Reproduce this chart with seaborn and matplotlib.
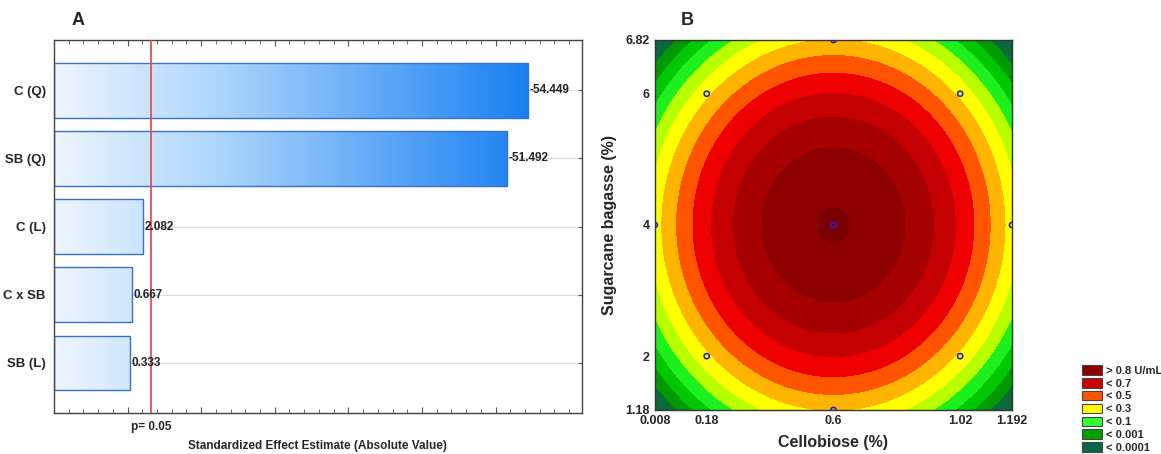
import matplotlib
matplotlib.use("Agg")
import matplotlib.pyplot as plt
from matplotlib.colors import LinearSegmentedColormap
from matplotlib.patches import Patch
from matplotlib.ticker import MultipleLocator
import numpy as np
import pandas as pd
import seaborn as sns

# panel A - pareto of standardized effects
terms = ["C (Q)", "SB (Q)", "C (L)", "C x SB", "SB (L)"]
effects = [-54.449, -51.492, 2.082, 0.667, 0.333]
p_crit = 3.18  # t value at p = 0.05

# panel B - fitted quadratic model in coded units (x1 = cellobiose, x2 = bagasse)
b0 = 0.805
b11 = -0.330
b22 = -0.303
cello_center, cello_step = 0.6, 0.42
sb_center, sb_step = 4.0, 2.0
cello_ticks = [0.008, 0.18, 0.6, 1.02, 1.192]
sb_ticks = [1.18, 2, 4, 6, 6.82]
design_cello = [0.18, 0.18, 1.02, 1.02, 0.008, 1.192, 0.6, 0.6, 0.6]
design_sb = [2, 6, 2, 6, 4, 4, 1.18, 6.82, 4]
levels = [-1.0, -0.3, -0.2, -0.1, 0.0, 0.1, 0.2, 0.3, 0.4, 0.5, 0.6, 0.7, 0.8, 1.0]
band_colors = ['#0b6a3a', '#009a00', '#00c800', '#1ef01e', '#b8ff00', '#ffff00',
               '#ffb400', '#ff5500', '#ee0000', '#c40000', '#a60000', '#8e0000', '#7a0000']
legend_labels = ["> 0.8 U/mL", "< 0.7", "< 0.5", "< 0.3", "< 0.1", "< 0.001", "< 0.0001"]
legend_colors = ['#8b0000', '#cc0000', '#ff5500', '#ffff00', '#33ff33', '#00a000', '#0a6648']

sns.set_style("white")
plt.rcParams['font.family'] = ['Liberation Sans', 'DejaVu Sans']
plt.rcParams['xtick.direction'] = 'in'
plt.rcParams['ytick.direction'] = 'in'

fig = plt.figure(figsize=(11.61, 4.54), dpi=100)
axA = fig.add_axes([0.0465, 0.090, 0.4545, 0.822])
axB = fig.add_axes([0.564, 0.097, 0.3077, 0.815])

# ---- panel A ----
df = pd.DataFrame({"term": terms, "effect": effects})
df["abs_effect"] = df["effect"].abs()
xmin, xmax = -10, 61.7
for y in range(len(terms)):
    axA.axhline(y, color='#d8d8d8', lw=0.8, zorder=0)
sns.barplot(data=df, x="abs_effect", y="term", orient="h", ax=axA, width=0.8,
            color='white', edgecolor='#3b6fcf', linewidth=1.0, zorder=2)
cmap = LinearSegmentedColormap.from_list(
    "bar", [(0, '#eef6fe'), (0.35, '#acd5fb'), (1, '#1a80f2')])
grad = np.linspace(0, 1, 256).reshape(1, -1)
gmax = df["abs_effect"].max()
for patch, val in zip(axA.patches, df["abs_effect"]):
    patch.set_x(xmin)
    patch.set_width(val - xmin)
    patch.set_facecolor('none')
    y0 = patch.get_y()
    h = patch.get_height()
    im = axA.imshow(grad, cmap=cmap, aspect='auto', extent=[xmin, gmax, y0 + h, y0],
                    zorder=1.5, interpolation='bilinear')
    im.set_clip_path(patch)
for i, (val, eff) in enumerate(zip(df["abs_effect"], df["effect"])):
    axA.text(val + 0.2, i, f"{eff:.3f}", va='center', ha='left', fontsize=8.5,
             fontweight='semibold', color='#222222', zorder=4)
axA.axvline(p_crit, color='#e05050', lw=1.3, zorder=3)
axA.set_xlim(xmin, xmax)
axA.set_ylim(len(terms) - 0.26, -0.74)
axA.set_xticks(np.arange(0, 60, 10))
axA.set_xticklabels([])
axA.xaxis.set_minor_locator(MultipleLocator(2))
axA.tick_params(axis='x', which='both', top=True, bottom=True, length=3, color='#555555')
axA.tick_params(axis='x', which='major', length=4)
axA.tick_params(axis='y', left=True, right=True, length=3, color='#555555', labelsize=9.5, pad=6)
for lab in axA.get_yticklabels():
    lab.set_fontweight('bold')
axA.text(p_crit, -0.022, "p= 0.05", transform=axA.get_xaxis_transform(),
         ha='center', va='top', fontsize=8.5, fontweight='bold')
axA.set_xlabel("Standardized Effect Estimate (Absolute Value)", fontsize=8.5,
               fontweight='bold', labelpad=16)
axA.set_ylabel("")
for s in axA.spines.values():
    s.set_color('#444444')
    s.set_linewidth(1.0)
axA.text(0.045, 1.03, "A", transform=axA.transAxes, fontsize=13, fontweight='bold',
         ha='center', va='bottom')

# ---- panel B ----
cello = np.linspace(cello_ticks[0], cello_ticks[-1], 400)
sb = np.linspace(sb_ticks[0], sb_ticks[-1], 400)
CC, SS = np.meshgrid(cello, sb)
x1 = (CC - cello_center) / cello_step
x2 = (SS - sb_center) / sb_step
Z = b0 + b11 * x1 ** 2 + b22 * x2 ** 2
axB.contourf(CC, SS, Z, levels=levels, colors=band_colors)
sns.scatterplot(x=design_cello, y=design_sb, ax=axB, marker='o', s=14,
                facecolor='none', edgecolor='#2323c8', linewidth=1.2, zorder=5)
axB.set_xlim(cello_ticks[0], cello_ticks[-1])
axB.set_ylim(sb_ticks[0], sb_ticks[-1])
axB.set_xticks(cello_ticks)
axB.set_xticklabels([str(t) for t in cello_ticks])
axB.set_yticks(sb_ticks)
axB.set_yticklabels([str(t) for t in sb_ticks])
axB.xaxis.set_minor_locator(MultipleLocator(0.15))
axB.yaxis.set_minor_locator(MultipleLocator(0.4))
axB.tick_params(axis='both', which='both', top=True, right=True, length=3,
                color='#333333', labelsize=9)
for lab in axB.get_xticklabels() + axB.get_yticklabels():
    lab.set_fontweight('bold')
axB.set_xlabel("Cellobiose (%)", fontsize=11.5, fontweight='bold', labelpad=6)
axB.set_ylabel("Sugarcane bagasse (%)", fontsize=11.5, fontweight='bold', labelpad=6)
for s in axB.spines.values():
    s.set_color('#333333')
    s.set_linewidth(1.0)
axB.text(0.092, 1.03, "B", transform=axB.transAxes, fontsize=13, fontweight='bold',
         ha='center', va='bottom')

handles = [Patch(facecolor=c, edgecolor='#444444', linewidth=0.8) for c in legend_colors]
leg = fig.legend(handles, legend_labels, loc='lower left', bbox_to_anchor=(0.926, -0.012),
                 frameon=False, fontsize=8, handlelength=1.8, handleheight=0.95,
                 labelspacing=0.2, handletextpad=0.35, borderpad=0.1)
for t in leg.get_texts():
    t.set_fontweight('bold')

fig.savefig("out.png", dpi=100)
